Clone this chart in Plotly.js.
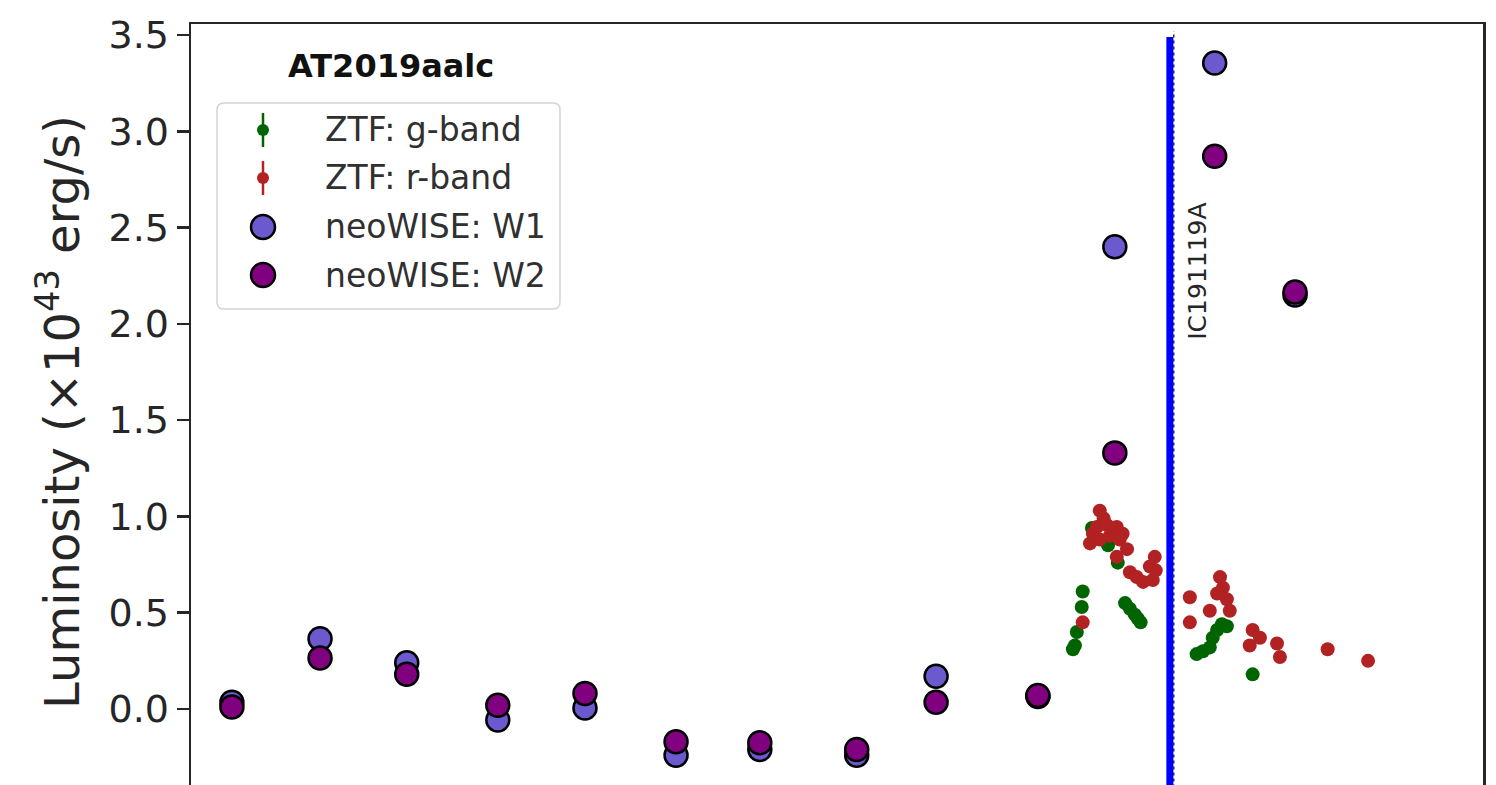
<!DOCTYPE html>
<html>
<head>
<meta charset="utf-8">
<script src="https://cdn.plot.ly/plotly-3.0.1.min.js"></script>
<style>
  html, body { margin: 0; padding: 0; background: #ffffff; overflow: hidden; }
  #chart { width: 1496px; height: 884px; }
</style>
</head>
<body>
<div id="chart"></div>
<script>
// AT2019aalc light curve: ZTF optical photometry and neoWISE mid-infrared epochs (MJD)

// neoWISE epochs
const wiseMJD = [56880, 57061, 57239, 57426, 57605, 57792, 57964, 58163, 58326, 58535, 58693, 58898, 59063];
const w1Lum   = [0.035, 0.365, 0.24, -0.057, 0.005, -0.24, -0.21, -0.24, 0.17, 0.065, 2.40, 3.355, 2.15];
const w2Lum   = [0.01, 0.265, 0.18, 0.02, 0.08, -0.17, -0.175, -0.21, 0.035, 0.07, 1.33, 2.87, 2.165];

// ZTF g-band
const ztfGMJD = [58607, 58611, 58615, 58625, 58627, 58646, 58679, 58699, 58714, 58724, 58734, 58740, 58746,
                 58861, 58874, 58888, 58894, 58903, 58913, 58923, 58976];
const ztfGLum = [0.31, 0.33, 0.40, 0.53, 0.61, 0.94, 0.85, 0.76, 0.55, 0.52, 0.49, 0.47, 0.45,
                 0.285, 0.30, 0.32, 0.37, 0.41, 0.44, 0.43, 0.18];

// ZTF r-band
const ztfRMJD = [58627, 58642, 58648, 58656, 58662, 58662, 58670, 58677, 58683, 58697, 58703, 58709, 58718,
                 58697, 58724, 58738, 58751, 58765, 58771, 58775, 58777,
                 58847, 58847, 58909, 58915, 58903, 58923, 58929, 58888,
                 58976, 58970, 58991, 59026, 59032, 59130, 59213];
const ztfRLum = [0.45, 0.86, 0.91, 0.945, 0.88, 1.03, 0.99, 0.955, 0.90, 0.945, 0.88, 0.91, 0.83,
                 0.79, 0.71, 0.685, 0.66, 0.74, 0.67, 0.79, 0.72,
                 0.58, 0.45, 0.685, 0.63, 0.60, 0.57, 0.51, 0.51,
                 0.41, 0.33, 0.37, 0.34, 0.27, 0.31, 0.25];

// Neutrino alert
const neutrinoMJD = [58806];
const neutrinoLabel = ['IC191119A'];

// Legend entries
const legendLabels = ['ZTF: g-band', 'ZTF: r-band', 'neoWISE: W1', 'neoWISE: W2'];
const legendColors = ['#006400', '#b22222', '#6a5acd', '#800080'];

const FONT = 'DejaVu Sans, Liberation Sans, sans-serif';
const AXIS_COLOR = '#262626';

// plot-area geometry in page pixels (used for paper-coordinate placement)
const PA = { l: 191, t: 24, w: 1292, h: 776 };
const fx = px => (px - PA.l) / PA.w;
const fy = py => (PA.t + PA.h - py) / PA.h;

const traces = [
  {
    x: ztfGMJD, y: ztfGLum, type: 'scatter', mode: 'markers', name: legendLabels[0],
    marker: { color: legendColors[0], size: 14, line: { width: 0 } }
  },
  {
    x: ztfRMJD, y: ztfRLum, type: 'scatter', mode: 'markers', name: legendLabels[1],
    marker: { color: legendColors[1], size: 14, line: { width: 0 } }
  },
  {
    x: wiseMJD, y: w1Lum, type: 'scatter', mode: 'markers', name: legendLabels[2],
    marker: { color: legendColors[2], size: 23, line: { color: '#000000', width: 2.5 } }
  },
  {
    x: wiseMJD, y: w2Lum, type: 'scatter', mode: 'markers', name: legendLabels[3],
    marker: { color: legendColors[3], size: 23, line: { color: '#000000', width: 2.5 } }
  }
];

const shapes = [];
// neutrino arrival: dotted marker line and thick blue line
shapes.push({
  type: 'line', xref: 'x', yref: 'y',
  x0: neutrinoMJD[0] + 8, x1: neutrinoMJD[0] + 8, y0: -1, y1: 3.52,
  line: { color: '#333333', width: 1.5, dash: 'dot' }, layer: 'above'
});
shapes.push({
  type: 'line', xref: 'x', yref: 'y',
  x0: neutrinoMJD[0], x1: neutrinoMJD[0], y0: -1, y1: 3.49,
  line: { color: '#0000ff', width: 7 }, layer: 'above'
});

// legend frame (rounded rectangle)
(function () {
  const x0 = 217, x1 = 560, y0 = 103, y1 = 309, r = 7;
  const P = (px, py) => fx(px) + ',' + fy(py);
  const path = 'M' + P(x0 + r, y0) + ' L' + P(x1 - r, y0) +
    ' Q' + P(x1, y0) + ' ' + P(x1, y0 + r) +
    ' L' + P(x1, y1 - r) + ' Q' + P(x1, y1) + ' ' + P(x1 - r, y1) +
    ' L' + P(x0 + r, y1) + ' Q' + P(x0, y1) + ' ' + P(x0, y1 - r) +
    ' L' + P(x0, y0 + r) + ' Q' + P(x0, y0) + ' ' + P(x0 + r, y0) + ' Z';
  shapes.push({
    type: 'path', xref: 'paper', yref: 'paper', path: path,
    fillcolor: 'rgba(255,255,255,0.85)', line: { color: '#d4d4d4', width: 1.5 }, layer: 'above'
  });
})();

const legendRows = [130, 178, 227, 275];
const glyphX = 263;
const annotations = [];
legendRows.forEach((ry, i) => {
  if (i < 2) {
    // photometric point with error bar
    shapes.push({
      type: 'line', xref: 'paper', yref: 'paper',
      xsizemode: 'pixel', ysizemode: 'pixel', xanchor: fx(glyphX), yanchor: fy(ry),
      x0: 0, x1: 0, y0: -17, y1: 17,
      line: { color: legendColors[i], width: 2.5 }, layer: 'above'
    });
    shapes.push({
      type: 'circle', xref: 'paper', yref: 'paper',
      xsizemode: 'pixel', ysizemode: 'pixel', xanchor: fx(glyphX), yanchor: fy(ry),
      x0: -6, x1: 6, y0: -6, y1: 6,
      fillcolor: legendColors[i], line: { width: 0 }, layer: 'above'
    });
  } else {
    shapes.push({
      type: 'circle', xref: 'paper', yref: 'paper',
      xsizemode: 'pixel', ysizemode: 'pixel', xanchor: fx(glyphX), yanchor: fy(ry),
      x0: -12, x1: 12, y0: -12, y1: 12,
      fillcolor: legendColors[i], line: { color: '#000000', width: 2.5 }, layer: 'above'
    });
  }
  annotations.push({
    xref: 'paper', yref: 'paper', x: fx(323), y: fy(ry),
    xanchor: 'left', yanchor: 'middle', showarrow: false,
    text: legendLabels[i], font: { family: FONT, size: 33, color: '#303030' }
  });
});

// object name
annotations.push({
  xref: 'paper', yref: 'paper', x: fx(391), y: fy(66),
  xanchor: 'center', yanchor: 'middle', showarrow: false,
  text: '<b>AT2019aalc</b>', font: { family: FONT, size: 32, color: '#111111' }
});

// neutrino label
annotations.push({
  xref: 'x', yref: 'y', x: neutrinoMJD[0] + 55, y: 2.64,
  xanchor: 'center', yanchor: 'top', showarrow: false, textangle: -90,
  text: neutrinoLabel[0], font: { family: FONT, size: 25, color: '#262626' }
});

const layout = {
  width: 1496, height: 884,
  margin: { l: PA.l, r: 1496 - PA.l - PA.w, t: PA.t, b: 884 - PA.t - PA.h, pad: 0 },
  paper_bgcolor: '#ffffff', plot_bgcolor: '#ffffff',
  showlegend: false,
  font: { family: FONT, color: AXIS_COLOR },
  xaxis: {
    range: [56796, 59449], showgrid: false, zeroline: false,
    showline: true, mirror: true, linecolor: AXIS_COLOR, linewidth: 2.5,
    ticks: '', showticklabels: false, automargin: false
  },
  yaxis: {
    range: [-0.4725, 3.557], showgrid: false, zeroline: false,
    showline: true, mirror: true, linecolor: AXIS_COLOR, linewidth: 2.5,
    ticks: 'outside', ticklen: 12, tickwidth: 2.5, tickcolor: AXIS_COLOR,
    tickvals: [0, 0.5, 1, 1.5, 2, 2.5, 3, 3.5], tickformat: '.1f',
    tickfont: { family: FONT, size: 38, color: AXIS_COLOR },
    automargin: false,
    title: {
      text: 'Luminosity (×10<sup>43</sup> erg/s)', standoff: 14,
      font: { family: FONT, size: 48, color: AXIS_COLOR }
    }
  },
  shapes: shapes,
  annotations: annotations
};

Plotly.newPlot('chart', traces, layout, { staticPlot: true, displayModeBar: false });
</script>
</body>
</html>
